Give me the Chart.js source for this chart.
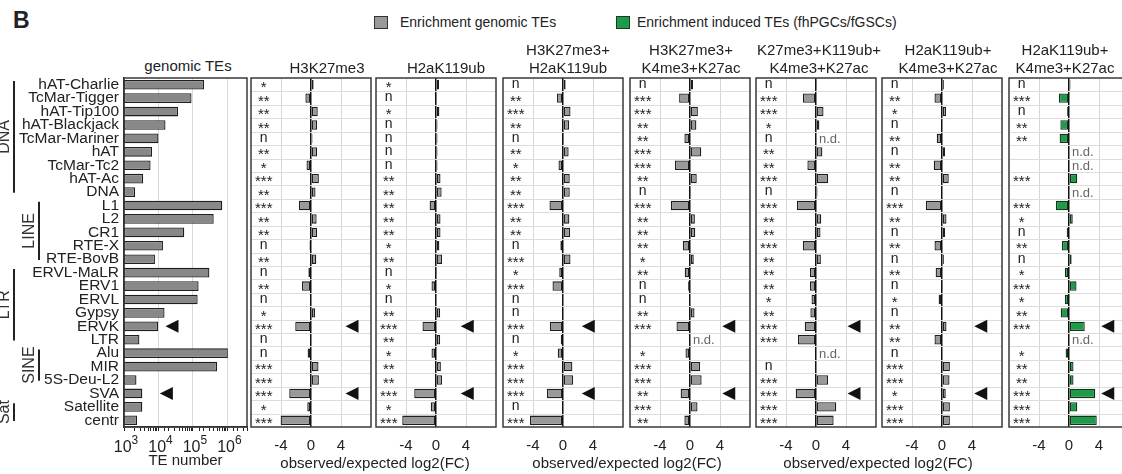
<!DOCTYPE html>
<html>
<head>
<meta charset="utf-8">
<script src="https://cdn.jsdelivr.net/npm/chart.js@4"></script>
<style>
body { margin: 0; background: #fff; font-family: "Liberation Sans", Arial, sans-serif; color: #222; }
#fig { position: relative; width: 1122px; height: 474px; overflow: hidden; }
.box { position: absolute; }
.txt { position: absolute; white-space: nowrap; transform: translateX(-50%); text-align: center; font-size: 15px; line-height: 18px; }
</style>
</head>
<body>
<div id="fig"></div>
<script>
// TE families, top to bottom
const categories = ['hAT-Charlie', 'TcMar-Tigger', 'hAT-Tip100', 'hAT-Blackjack', 'TcMar-Mariner', 'hAT',
    'TcMar-Tc2', 'hAT-Ac', 'DNA', 'L1', 'L2', 'CR1', 'RTE-X', 'RTE-BovB', 'ERVL-MaLR', 'ERV1', 'ERVL',
    'Gypsy', 'ERVK', 'LTR', 'Alu', 'MIR', '5S-Deu-L2', 'SVA', 'Satellite', 'centr'];

// TE classes on the left
const groupNames = ['DNA', 'LINE', 'LTR', 'SINE', 'Sat'];
const groupFirst = ['hAT-Charlie', 'L1', 'ERVL-MaLR', 'Alu', 'Satellite'];
const groupLast = ['DNA', 'RTE-BovB', 'LTR', '5S-Deu-L2', 'centr'];

// genomic TE counts
const teNumber = [210000, 91000, 37000, 16000, 10000, 6500, 5900, 3600, 2100, 710000, 400000, 56000, 13500,
    7900, 300000, 146000, 137000, 15000, 9700, 2800, 1030000, 500000, 2300, 3400, 3400, 2400];
const teTickExp = [3, 4, 5, 6];

// observed/expected log2(FC), null = n.d.
const h3k27me3 = [0.35, -0.75, 0.9, 0.8, 0.2, 0.8, -0.6, 1.05, 0.6, -1.6, 0.75, 0.8, -0.2, 0.7, -0.35, -1.2,
    -0.05, 0.55, -2.1, -0.05, -0.45, 1.0, 1.05, -2.9, -0.5, -4.05];
const h2ak119ub = [0.4, 0.05, 0.45, 0.2, 0.2, 0.2, 0.2, 0.6, 0.75, -0.85, 0.6, 0.6, 0.45, 0.8, 0.05, -0.6,
    0.1, 0.55, -1.8, 0.55, -0.6, 0.65, 0.8, -2.9, -0.7, -4.5];
const k27K119 = [0.35, -0.8, 1.0, 0.8, 0.05, 0.75, -0.6, 0.9, 0.9, -1.8, 0.85, 0.95, -0.35, 1.0, -0.5, -1.4,
    -0.1, 0.1, -1.75, -0.3, -0.7, 1.25, 1.35, -2.15, -0.05, -4.4];
const k27K4K27ac = [0.4, -1.45, 1.05, 0.85, -0.75, 1.5, -2.0, 0.9, 0.05, -2.55, 0.65, 0.7, -0.95, 0.5, -0.7,
    -0.25, -0.05, 0.6, -1.8, null, -0.6, 1.35, 1.55, -1.25, 1.0, -0.75];
const k27K119K4K27ac = [0.05, -1.75, 1.0, 0.45, null, 0.85, -1.15, 1.6, 0.2, -2.55, 0.7, 0.6, -1.75, 0.65,
    -0.8, -0.8, -0.6, -0.75, -1.5, -2.4, null, 0, 1.6, -2.7, 2.7, 2.35];
const k119K4K27ac = [0.25, -1.0, 0.55, -0.1, -0.7, 0.4, -1.1, 0.9, -0.15, -2.15, 0.6, 0.4, -1.0, 0.25, -0.85,
    0.05, -0.45, -0.1, 0.6, -1.0, -0.05, 1.05, 1.0, 0.5, 1.05, 1.05];
const inducedK119K4K27ac = [0.2, -1.35, -0.25, -1.15, -1.25, null, null, 1.1, null, -1.75, 0.5, -0.3, -0.95,
    0.35, -0.55, 1.0, -0.55, -1.1, 2.1, null, -0.45, 0.6, 0.6, 3.5, 1.1, 3.7];

// significance marks
const stars1 = ['*', '**', '**', '**', 'n', '**', '*', '***', '**', '***', '**', '**', 'n', '**', 'n', '**', 'n', '*', '***', 'n', 'n', '***', '***', '***', '*', '***'];
const stars2 = ['*', 'n', '*', 'n', 'n', 'n', 'n', '**', '**', '**', '**', '**', '*', '**', 'n', '*', 'n', '**', '***', '**', '*', '**', '**', '***', '*', '***'];
const stars3 = ['n', '**', '***', '**', 'n', '**', '*', '**', '**', '***', '**', '**', 'n', '***', '*', '***', 'n', 'n', '***', 'n', '*', '***', '***', '***', 'n', '***'];
const stars4 = ['n', '***', '***', '**', '**', '***', '***', '**', 'n', '***', '**', '**', '**', '*', '**', 'n', 'n', '**', '***', '', '*', '***', '***', '**', '***', '**'];
const stars5 = ['n', '***', '***', '*', 'n', '**', '**', '***', 'n', '***', '**', '**', '***', '**', '**', '**', '*', '**', '***', '***', '', 'n', '***', '***', '***', '***'];
const stars6 = ['n', '**', '*', 'n', '**', 'n', '**', '**', 'n', '***', '**', 'n', '**', 'n', '**', 'n', '*', 'n', '**', '**', 'n', '***', '***', '*', '***', '***'];
const stars7 = ['n', '***', 'n', '**', '**', '', '', '***', '', '***', '*', 'n', '**', 'n', '*', '***', '*', '**', '***', '', '*', '**', '**', '***', '***', '***'];

const panelTitles = [['H3K27me3'], ['H2aK119ub'], ['H3K27me3+', 'H2aK119ub'], ['H3K27me3+', 'K4me3+K27ac'],
    ['K27me3+K119ub+', 'K4me3+K27ac'], ['H2aK119ub+', 'K4me3+K27ac'], ['H2aK119ub+', 'K4me3+K27ac']];
const arrowRows = ['ERVK', 'SVA'];
const log2Ticks = [-4, 0, 4];

const panelValues = [h3k27me3, h2ak119ub, k27K119, k27K4K27ac, k27K119K4K27ac, k119K4K27ac, inducedK119K4K27ac];
const panelStars = [stars1, stars2, stars3, stars4, stars5, stars6, stars7];

// layout
const zeroX = [310.7, 435.7, 563, 690.3, 816, 942, 1069.3];
const titleX = [327, 446, 568, 691, 819, 948, 1065];
const arrowTip = [4.6, 3.3, 2.5, 4.3, 4.2, 4.3, 4.3];
const PLOT_TOP = 78, PLOT_H = 349;
const GRAY = '#999999', GREEN = '#1f9a4a';
const FONT = '"Liberation Sans", Arial, sans-serif';

Chart.defaults.font.family = FONT;
Chart.defaults.color = '#222';
Chart.defaults.animation = false;

const fig = document.getElementById('fig');

function addCanvas(left, top, w, h) {
    const d = document.createElement('div');
    d.className = 'box';
    Object.assign(d.style, { left: left + 'px', top: top + 'px', width: w + 'px', height: h + 'px' });
    const c = document.createElement('canvas');
    d.appendChild(c);
    fig.appendChild(d);
    return c;
}

function addText(html, x, y, css) {
    const d = document.createElement('div');
    d.className = 'txt';
    d.innerHTML = html;
    d.style.left = x + 'px';
    d.style.top = y + 'px';
    if (css) Object.assign(d.style, css);
    fig.appendChild(d);
    return d;
}

function arrow(ctx, tx, ty) {
    ctx.beginPath();
    ctx.moveTo(tx, ty);
    ctx.lineTo(tx + 13, ty - 6.5);
    ctx.lineTo(tx + 13, ty + 6.5);
    ctx.closePath();
    ctx.fillStyle = '#111';
    ctx.fill();
}

// frame, row lines, stars, n.d., arrows, class brackets, 10^n labels
const marks = {
    id: 'marks',
    beforeDatasetsDraw(chart, args, o) {
        if (!o.rowLines) return;
        const { ctx, chartArea: a } = chart;
        const rowH = a.height / categories.length;
        ctx.save();
        ctx.strokeStyle = '#dcdcdc';
        ctx.lineWidth = 1;
        for (let i = 1; i < categories.length; i++) {
            const yy = Math.round(a.top + i * rowH) + 0.5;
            ctx.beginPath();
            ctx.moveTo(a.left, yy);
            ctx.lineTo(a.right, yy);
            ctx.stroke();
        }
        ctx.restore();
    },
    afterDraw(chart, args, o) {
        const { ctx, chartArea: a, scales: { x, y } } = chart;
        const rowH = a.height / categories.length;
        const vals = chart.data.datasets[0].data;
        ctx.save();
        ctx.strokeStyle = '#3a3a3a';
        ctx.lineWidth = 1.5;
        ctx.strokeRect(a.left, a.top, a.width, a.height);

        if (o.stars) {
            ctx.fillStyle = '#222';
            ctx.textAlign = 'center';
            ctx.textBaseline = 'middle';
            const sx = x.getPixelForValue(o.starAt);
            o.stars.forEach((s, i) => {
                const yy = y.getPixelForValue(i);
                if (s === 'n') {
                    ctx.font = '14px ' + FONT;
                    ctx.fillText(s, sx, yy - 0.5);
                } else {
                    ctx.font = '15px ' + FONT;
                    ctx.fillText(s, sx, yy + 3.5);
                }
            });
            ctx.fillStyle = '#666';
            ctx.textAlign = 'left';
            ctx.font = '13px ' + FONT;
            vals.forEach((v, i) => {
                if (v === null) ctx.fillText('n.d.', x.getPixelForValue(0) + 3, y.getPixelForValue(i) + 1);
            });
        }

        arrowRows.forEach((name, k) => {
            const tip = Array.isArray(o.arrowAt) ? o.arrowAt[k] : o.arrowAt;
            arrow(ctx, x.getPixelForValue(tip), y.getPixelForValue(categories.indexOf(name)));
        });

        if (o.powers) {
            ctx.fillStyle = '#222';
            ctx.textBaseline = 'alphabetic';
            ctx.textAlign = 'left';
            o.powers.forEach(e => {
                ctx.font = '16px ' + FONT;
                const w1 = ctx.measureText('10').width;
                ctx.font = '12px ' + FONT;
                const w2 = ctx.measureText(String(e)).width;
                const cx = x.getPixelForValue(Math.pow(10, e));
                const left = cx - (w1 + w2) / 2 + 2;
                ctx.font = '16px ' + FONT;
                ctx.fillText('10', left, a.bottom + 25);
                ctx.font = '12px ' + FONT;
                ctx.fillText(String(e), left + w1, a.bottom + 17);
            });
        }

        if (o.groups) {
            ctx.strokeStyle = '#222';
            ctx.lineWidth = 2;
            ctx.fillStyle = '#333';
            ctx.font = '16px ' + FONT;
            ctx.textAlign = 'center';
            ctx.textBaseline = 'middle';
            groupNames.forEach((g, k) => {
                const top = y.getPixelForValue(categories.indexOf(groupFirst[k])) - rowH / 2 + 3;
                const bot = y.getPixelForValue(categories.indexOf(groupLast[k])) + rowH / 2 - 6;
                const lx = k % 2 ? 39 : 14;
                ctx.beginPath();
                ctx.moveTo(lx, top);
                ctx.lineTo(lx, bot);
                ctx.stroke();
                ctx.save();
                ctx.translate(lx - 9, (top + bot) / 2);
                ctx.rotate(-Math.PI / 2);
                ctx.fillText(g, 0, 0);
                ctx.restore();
            });
        }
        ctx.restore();
    }
};

// genomic TEs panel (with the TE family names)
new Chart(addCanvas(0, PLOT_TOP - 1, 250, PLOT_H + 1 + 46), {
    type: 'bar',
    data: {
        labels: categories,
        datasets: [{ data: teNumber, backgroundColor: '#888888', borderColor: '#1e1e1e', borderWidth: 1.3,
            borderSkipped: false, barPercentage: 0.72, categoryPercentage: 1 }]
    },
    options: {
        indexAxis: 'y',
        responsive: true,
        maintainAspectRatio: false,
        layout: { padding: { left: 0, right: 3, top: 1, bottom: 0 } },
        plugins: {
            legend: { display: false },
            tooltip: { enabled: false },
            marks: { arrowAt: [16000, 11000], groups: true, powers: teTickExp }
        },
        scales: {
            x: {
                type: 'logarithmic',
                min: 1000,
                max: 3.7e6,
                afterFit: s => { s.height = 46; s.paddingLeft = 0; s.paddingRight = 0; },
                grid: {
                    drawTicks: true,
                    tickLength: 4,
                    tickColor: '#222',
                    color: c => {
                        const v = c.tick ? c.tick.value : 0;
                        const e = Math.log10(v);
                        return (Math.abs(e - Math.round(e)) < 1e-6 && v > 1000) ? '#d9d9d9' : 'rgba(0,0,0,0)';
                    }
                },
                border: { display: true, color: '#222', width: 1.5 },
                ticks: { autoSkip: false, maxRotation: 0, padding: 4, font: { size: 16 }, callback: () => '' },
                title: { display: true, text: 'TE number', font: { size: 15 }, color: '#222', padding: { top: 0, bottom: 3 } }
            },
            y: {
                afterFit: s => { s.width = 124; s.paddingTop = 0; s.paddingBottom = 0; },
                grid: { display: false, drawTicks: false },
                border: { display: true, color: '#222', width: 1.5 },
                ticks: { autoSkip: false, padding: 5, font: { size: 15.5 }, color: '#222' }
            }
        }
    },
    plugins: [marks]
});

// log2(FC) panels
panelValues.forEach((vals, p) => {
    const green = p === 6;
    new Chart(addCanvas(zeroX[p] - 62, PLOT_TOP - 1, 124, PLOT_H + 1 + 40), {
        type: 'bar',
        data: {
            labels: categories,
            datasets: [{
                data: vals,
                backgroundColor: green ? GREEN : GRAY,
                borderColor: green ? '#12331c' : '#1e1e1e',
                borderWidth: 1.3,
                borderSkipped: false,
                barPercentage: 0.7,
                categoryPercentage: 1
            }]
        },
        options: {
            indexAxis: 'y',
            responsive: true,
            maintainAspectRatio: false,
            layout: { padding: { left: 2, right: 2, top: 1, bottom: 0 } },
            plugins: {
                legend: { display: false },
                tooltip: { enabled: false },
                marks: { rowLines: true, stars: panelStars[p], starAt: -6.3, arrowAt: arrowTip[p] }
            },
            scales: {
                x: {
                    type: 'linear',
                    min: -8,
                    max: 8,
                    afterBuildTicks: s => { s.ticks = log2Ticks.map(v => ({ value: v })); },
                    afterFit: s => { s.height = 40; s.paddingLeft = 0; s.paddingRight = 0; },
                    grid: {
                        drawTicks: false,
                        color: c => (c.tick && c.tick.value === 0) ? '#111' : '#d6d6d6',
                        lineWidth: c => (c.tick && c.tick.value === 0) ? 1.5 : 1
                    },
                    border: { display: false },
                    ticks: { padding: 10, font: { size: 15 }, color: '#222' }
                },
                y: { display: false }
            }
        },
        plugins: [marks]
    });
    addText(panelTitles[p].join('<br>'), titleX[p], 77 - 18 * panelTitles[p].length);
});

// texts
addText('genomic TEs', 188, 57);
addText('observed/expected log2(FC)', 375, 454);
addText('observed/expected log2(FC)', 627, 454);
addText('observed/expected log2(FC)', 878, 454);
addText('B', 13, 9, { transform: 'none', fontWeight: 'bold', fontSize: '23px', lineHeight: '23px' });

// legend
const legendItems = [
    { label: 'Enrichment genomic TEs', color: GRAY, edge: '#333', x: 374, tx: 400 },
    { label: 'Enrichment induced TEs (fhPGCs/fGSCs)', color: GREEN, edge: '#173d22', x: 616, tx: 637 }
];
legendItems.forEach(it => {
    const sq = document.createElement('div');
    Object.assign(sq.style, { position: 'absolute', left: it.x + 'px', top: '16px', width: '12px', height: '11px',
        background: it.color, border: '1px solid ' + it.edge });
    fig.appendChild(sq);
    addText(it.label, it.tx, 14, { transform: 'none', fontSize: '14px', lineHeight: '17px' });
});
</script>
</body>
</html>
